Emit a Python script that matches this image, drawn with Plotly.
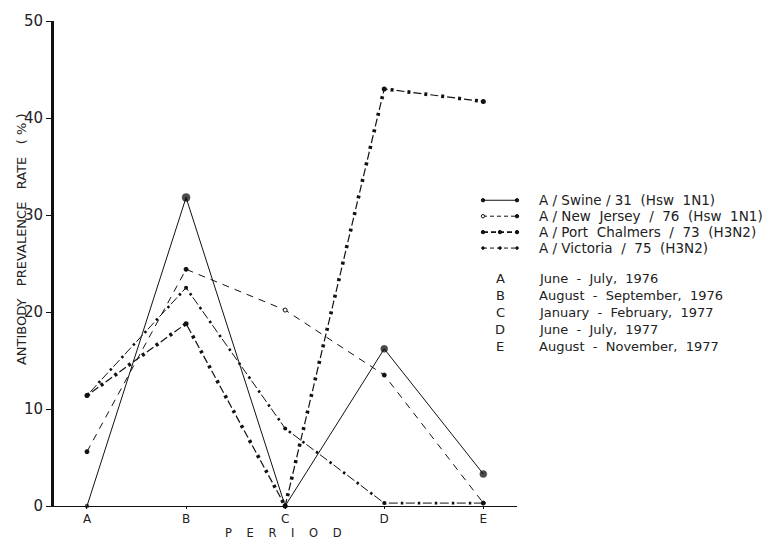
import plotly.graph_objects as go

periods = ["A", "B", "C", "D", "E"]
period_desc = ["June  -  July,  1976", "August  -  September,  1976", "January  -  February,  1977",
               "June  -  July,  1977", "August  -  November,  1977"]
swine = [0.0, 31.8, 0.0, 16.2, 3.3]
new_jersey = [5.6, 24.4, 20.2, 13.5, 0.3]
port_chalmers = [11.4, 18.8, 0.0, 43.0, 41.7]
victoria = [11.4, 22.5, 8.0, 0.3, 0.3]
series_names = ["A / Swine / 31  (Hsw  1N1)", "A / New  Jersey  /  76  (Hsw  1N1)",
                "A / Port  Chalmers  /  73  (H3N2)", "A / Victoria  /  75  (H3N2)"]
yticks = [0, 10, 20, 30, 40, 50]

W, H = 771, 541
L, R, T, B = 54, 254, 19, 35
PW, PH = W - L - R, H - T - B
def px(x):
    return (x - L) / PW
def py(y):
    return (H - B - y) / PH

xs = list(range(len(periods)))
INK = "#111111"
TXT = "#222222"
font = "DejaVu Sans"
fig = go.Figure()

# New Jersey: dashed
fig.add_trace(go.Scatter(x=xs, y=new_jersey, mode="lines+markers",
    line=dict(color=INK, width=1, dash="7px,6px"),
    marker=dict(color=[INK, INK, "white", INK, INK], size=4,
                line=dict(color=INK, width=1)),
    cliponaxis=False, showlegend=False))
# Victoria: light dash-dot with small dots
fig.add_trace(go.Scatter(x=xs, y=victoria, mode="lines",
    line=dict(color=INK, width=1, dash="0px,5px,9px,3px"), cliponaxis=False, showlegend=False))
fig.add_trace(go.Scatter(x=xs, y=victoria, mode="lines+markers",
    line=dict(color=INK, width=2.6, dash="2.5px,14.5px"), marker=dict(color=INK, size=4),
    cliponaxis=False, showlegend=False))
# Port Chalmers: dash with heavy dots
fig.add_trace(go.Scatter(x=xs, y=port_chalmers, mode="lines",
    line=dict(color=INK, width=1.2, dash="0px,6px,8px,3px"), cliponaxis=False, showlegend=False))
fig.add_trace(go.Scatter(x=xs, y=port_chalmers, mode="lines+markers",
    line=dict(color=INK, width=3.6, dash="3px,14px"), marker=dict(color=INK, size=5),
    cliponaxis=False, showlegend=False))
# Swine: solid (on top)
fig.add_trace(go.Scatter(x=xs, y=swine, mode="lines+markers",
    line=dict(color=INK, width=1),
    marker=dict(color="#000000", size=[4, 8, 4, 7, 7], line=dict(color="#000000", width=0.5)),
    cliponaxis=False, showlegend=False))

anns = []
shapes = []
# legend
leg_y = [199, 215, 231, 247]
styles = [("solid", 1), ("4px,3px", 1), ("5px,3px", 1.6), ("4px,3px", 1)]
for i, (name, yy) in enumerate(zip(series_names, leg_y)):
    dash, w = styles[i]
    shapes.append(dict(type="line", xref="paper", yref="paper", x0=px(483), x1=px(517),
                       y0=py(yy), y1=py(yy), line=dict(color=INK, width=w, dash=dash)))
    dots = [483, 517] if i < 2 else [483, 500, 517]
    for xx in dots:
        r = 1.7 if i != 3 else 1.3
        shapes.append(dict(type="circle", xref="paper", yref="paper",
                           x0=px(xx - r), x1=px(xx + r), y0=py(yy + r), y1=py(yy - r),
                           fillcolor=("white" if (i == 1 and xx == 483) else INK),
                           line=dict(color=INK, width=1)))
    anns.append(dict(text=name, xref="paper", yref="paper", x=px(537), y=py(yy),
                     xanchor="left", yanchor="middle", showarrow=False,
                     font=dict(family=font, size=13.5, color=TXT)))
per_y = [278, 295, 312, 329, 346]
for p, d, yy in zip(periods, period_desc, per_y):
    anns.append(dict(text=p, xref="paper", yref="paper", x=px(500), y=py(yy),
                     xanchor="center", yanchor="middle", showarrow=False,
                     font=dict(family=font, size=13, color=TXT)))
    anns.append(dict(text=d, xref="paper", yref="paper", x=px(537), y=py(yy),
                     xanchor="left", yanchor="middle", showarrow=False,
                     font=dict(family=font, size=13, color=TXT)))
# axis titles
anns.append(dict(text="P    E    R    I    O    D", xref="paper", yref="paper", x=px(283), y=py(533),
                 xanchor="center", yanchor="middle", showarrow=False,
                 font=dict(family=font, size=11.5, color=TXT)))
anns.append(dict(text="ANTIBODY   PREVALENCE   RATE   ( % )", xref="paper", yref="paper",
                 x=px(21), y=py(238), xanchor="center", yanchor="middle", textangle=-90,
                 showarrow=False, font=dict(family=font, size=13, color=TXT)))

fig.update_layout(
    width=W, height=H, margin=dict(l=L, r=R, t=T, b=B),
    paper_bgcolor="white", plot_bgcolor="white",
    annotations=anns, shapes=shapes,
    xaxis=dict(range=[-0.333, 4.34], tickvals=xs, ticktext=periods, showgrid=False,
               zeroline=False, showline=True, linecolor=INK, linewidth=1,
               ticks="outside", ticklen=2, tickcolor=INK,
               tickfont=dict(family=font, size=12, color=TXT)),
    yaxis=dict(range=[0, 50], tickvals=yticks, showgrid=False, zeroline=False,
               showline=True, linecolor=INK, linewidth=3,
               ticks="outside", ticklen=5, tickcolor=INK,
               tickfont=dict(family=font, size=15, color=TXT)),
)
fig.write_html("out.html", config={"displayModeBar": False},
               post_script="document.body.style.margin='0';document.body.style.overflow='hidden';")
